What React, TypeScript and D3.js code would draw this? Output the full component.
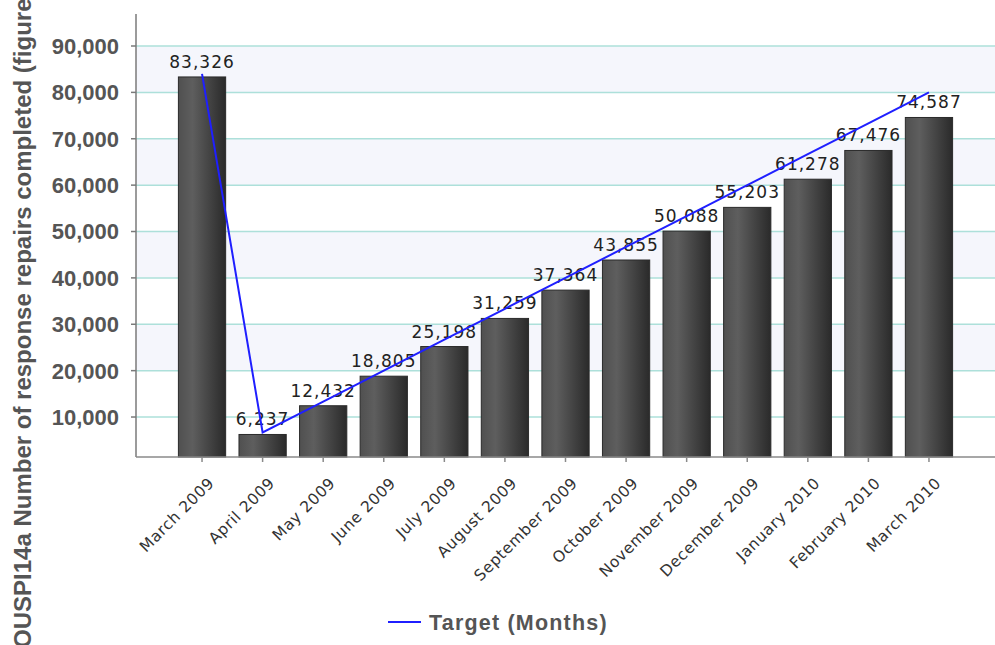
import React from "react";
import * as d3 from "d3";

// Monthly categories, actual completions and the cumulative target line
const months = [
  "March 2009", "April 2009", "May 2009", "June 2009", "July 2009", "August 2009",
  "September 2009", "October 2009", "November 2009", "December 2009",
  "January 2010", "February 2010", "March 2010",
];
const completed = [83326, 6237, 12432, 18805, 25198, 31259, 37364, 43855, 50088, 55203, 61278, 67476, 74587];
const target = [84000, 6667, 13333, 20000, 26667, 33333, 40000, 46667, 53333, 60000, 66667, 73333, 80000];
const yTicks = [10000, 20000, 30000, 40000, 50000, 60000, 70000, 80000, 90000];
const shadedBands = [[20000, 30000], [40000, 50000], [60000, 70000], [80000, 90000]];

const W = 995;
const H = 645;
const plot = { left: 136, right: 995, top: 14, bottom: 457 };

const x = d3.scaleBand<string>()
  .domain(months)
  .range([plot.left, plot.right])
  .paddingInner(0.22)
  .paddingOuter(0.7);

const y = d3.scaleLinear().domain([1380, 96900]).range([plot.bottom, plot.top]);

const fmt = d3.format(",");

export default function App() {
  const cx = (m: string) => (x(m) as number) + x.bandwidth() / 2;
  const linePath = d3.line<number>()
    .x((_, i) => cx(months[i]))
    .y((v) => y(v))(target) as string;

  return (
    <svg
      width={W}
      height={H}
      style={{ position: "absolute", left: 0, top: 0, background: "#fff" }}
      fontFamily="'Liberation Sans', Arial, sans-serif"
    >
      <defs>
        <linearGradient id="barFill" x1="0" x2="1" y1="0" y2="0">
          <stop offset="0%" stopColor="#505050" />
          <stop offset="30%" stopColor="#5e5e5e" />
          <stop offset="100%" stopColor="#2a2a2a" />
        </linearGradient>
      </defs>

      {/* alternating background bands */}
      {shadedBands.map(([a, b]) => (
        <rect key={a} x={plot.left} y={y(b)} width={plot.right - plot.left} height={y(a) - y(b)} fill="#f5f6fc" />
      ))}

      {/* gridlines */}
      {yTicks.map((t) => (
        <line key={t} x1={plot.left} x2={plot.right} y1={y(t)} y2={y(t)} stroke="#ade0da" strokeWidth={1.5} />
      ))}

      {/* y axis */}
      <line x1={plot.left} x2={plot.left} y1={plot.top} y2={plot.bottom} stroke="#7a7a7a" strokeWidth={1.5} />
      {yTicks.map((t) => (
        <g key={t}>
          <line x1={plot.left - 5} x2={plot.left} y1={y(t)} y2={y(t)} stroke="#7a7a7a" strokeWidth={1.5} />
          <text x={119} y={y(t)} dy="0.36em" textAnchor="end" fontSize={22} fontWeight="bold" fill="#555">
            {fmt(t)}
          </text>
        </g>
      ))}

      {/* bars */}
      {months.map((m, i) => (
        <rect
          key={m}
          x={x(m)}
          y={y(completed[i])}
          width={x.bandwidth()}
          height={plot.bottom - y(completed[i])}
          fill="url(#barFill)"
          stroke="#2a2a2a"
          strokeWidth={1}
        />
      ))}

      {/* x axis */}
      <line x1={plot.left} x2={plot.right} y1={plot.bottom} y2={plot.bottom} stroke="#8a8a8a" strokeWidth={1.5} />
      {months.map((m) => (
        <g key={m}>
          <line x1={cx(m)} x2={cx(m)} y1={plot.bottom} y2={plot.bottom + 5} stroke="#8a8a8a" strokeWidth={1.5} />
          <text
            transform={`translate(${cx(m) + 13},${plot.bottom + 27}) rotate(-45)`}
            textAnchor="end"
            fontFamily="'DejaVu Sans', Verdana, sans-serif"
            fontSize={15.5}
            letterSpacing={0.6}
            fill="#333"
          >
            {m}
          </text>
        </g>
      ))}

      {/* value labels */}
      {months.map((m, i) => (
        <text
          key={m}
          x={cx(m)}
          y={y(completed[i]) - 9}
          textAnchor="middle"
          fontFamily="'DejaVu Sans', Verdana, sans-serif"
          fontSize={17}
          letterSpacing={1}
          fill="#222"
        >
          {fmt(completed[i])}
        </text>
      ))}

      {/* target line */}
      <path d={linePath} fill="none" stroke="#1f1fff" strokeWidth={2} />

      {/* y axis title */}
      <text
        transform={`translate(31,${H + 3}) rotate(-90)`}
        textAnchor="start"
        fontSize={24}
        fontWeight="bold"
        fill="#555"
      >
        OUSPI14a Number of response repairs completed (figures)
      </text>

      {/* legend */}
      <line x1={388} x2={421} y1={622} y2={622} stroke="#1f1fff" strokeWidth={2} />
      <text x={429} y={622} dy="0.36em" fontSize={21.5} fontWeight="bold" letterSpacing={1.2} fill="#555">
        Target (Months)
      </text>
    </svg>
  );
}
